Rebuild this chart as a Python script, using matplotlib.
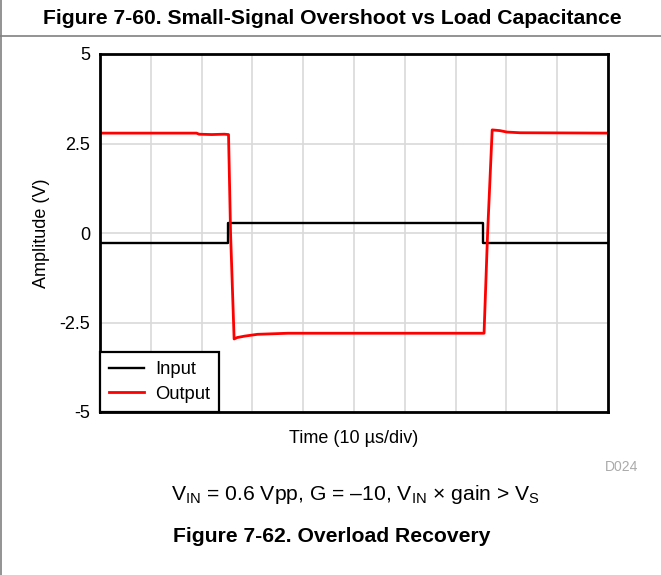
import matplotlib
matplotlib.use("Agg")
import matplotlib.pyplot as plt
from matplotlib.lines import Line2D

plt.rcParams["font.family"] = ["Liberation Sans", "DejaVu Sans"]
plt.rcParams["mathtext.fontset"] = "custom"
plt.rcParams["mathtext.rm"] = "Liberation Sans"

# Input square step (µs, V)
t_in = [0, 25.25, 25.25, 75.45, 75.45, 100]
v_in = [-0.27, -0.27, 0.28, 0.28, -0.27, -0.27]

# Output, clipped at the rails (µs, V)
t_out = [0, 19.0, 19.5, 22.0, 24.5, 25.3, 25.7, 26.4, 27.0, 28.5, 31.0, 37.0,
         75.6, 76.3, 77.2, 78.7, 80.1, 82.7, 100]
v_out = [2.79, 2.79, 2.76, 2.75, 2.76, 2.75, 0.0, -2.96, -2.92, -2.88, -2.83, -2.80,
         -2.80, 0.0, 2.88, 2.86, 2.82, 2.80, 2.79]

y_ticks = [-5, -2.5, 0, 2.5, 5]
y_tick_labels = ["-5", "-2.5", "0", "2.5", "5"]
x_ticks = list(range(0, 101, 10))

W, H = 661, 575
fig = plt.figure(figsize=(W / 100, H / 100), dpi=100)
ax = fig.add_axes([100 / W, (H - 412) / H, 508 / W, 358 / H])

ax.plot(t_in, v_in, color="black", lw=1.7, label="Input")
ax.plot(t_out, v_out, color="#ff0000", lw=2.0, label="Output")

ax.set_xlim(0, 100)
ax.set_ylim(-5, 5)
ax.set_xticks(x_ticks)
ax.set_xticklabels([])
ax.set_yticks(y_ticks)
ax.set_yticklabels(y_tick_labels)
ax.tick_params(length=0, labelsize=13, pad=7)
ax.grid(True, color="#d9d9d9", lw=1.2)
ax.set_axisbelow(True)
for s in ax.spines.values():
    s.set_linewidth(2.0)

ax.set_ylabel("Amplitude (V)", fontsize=13, labelpad=7)
ax.set_xlabel("Time (10 µs/div)", fontsize=13, labelpad=6)

leg = ax.legend(loc="lower left", fontsize=13.2, borderaxespad=0, fancybox=False,
                edgecolor="black", framealpha=1, handlelength=1.9,
                handletextpad=0.6, borderpad=0.5, labelspacing=0.4)
leg.get_frame().set_linewidth(1.6)

# page furniture
fig.text(332 / W, 1 - 19 / H, "Figure 7-60. Small-Signal Overshoot vs Load Capacitance",
         ha="center", va="center", fontsize=15.2, fontweight="bold",
         family=["Liberation Sans Narrow", "Liberation Sans"])
fig.add_artist(Line2D([0, 1], [1 - 36 / H, 1 - 36 / H], color="#808080", lw=1.2))
fig.add_artist(Line2D([0.6 / W, 0.6 / W], [0, 1], color="#808080", lw=1.2))

fig.text(622 / W, 1 - 467 / H, "D024", ha="center", va="center",
         fontsize=10, color="#aaaaaa")
fig.text(356 / W, 1 - 495 / H,
         r"V$_\mathregular{IN}$ = 0.6 Vpp, G = –10, V$_\mathregular{IN}$ × gain > V$_\mathregular{S}$",
         ha="center", va="center", fontsize=15.2)
fig.text(332 / W, 1 - 536 / H, "Figure 7-62. Overload Recovery", ha="center",
         va="center", fontsize=15.2, fontweight="bold")

fig.savefig("out.png", dpi=100)
